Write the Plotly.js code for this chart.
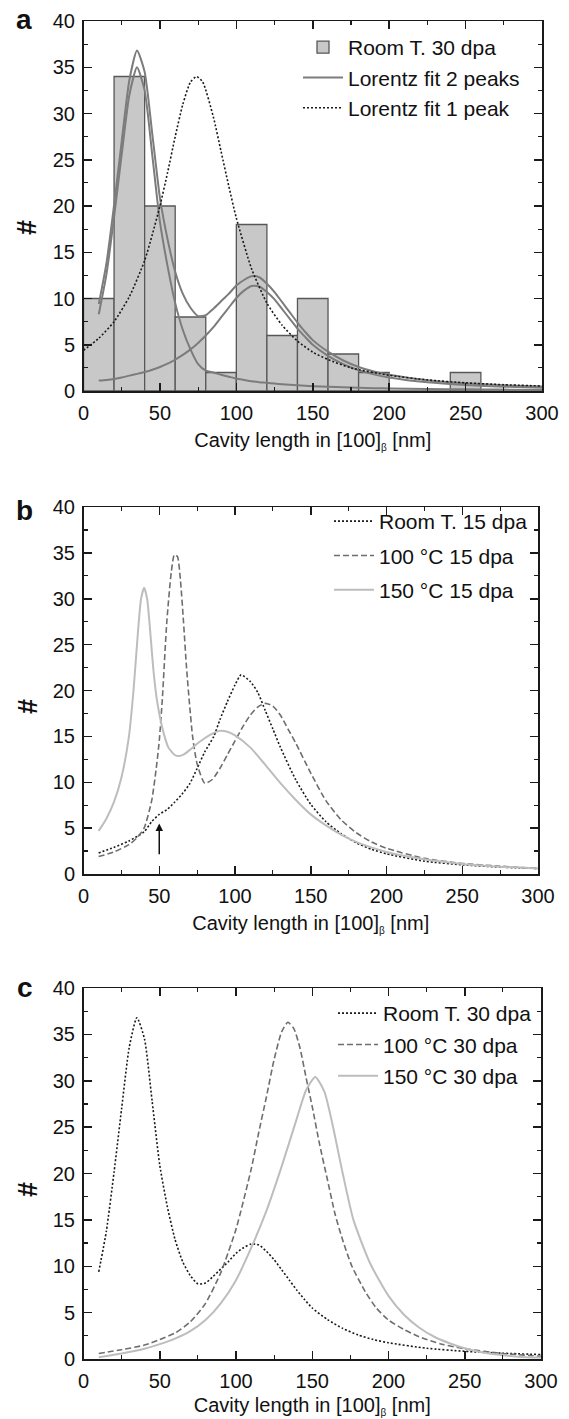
<!DOCTYPE html>
<html>
<head>
<meta charset="utf-8">
<script src="https://cdn.plot.ly/plotly-3.0.1.min.js"></script>
<style>html,body{margin:0;padding:0;background:#fff;}#chart{width:569px;height:1419px;}</style>
</head>
<body>
<div id="chart"></div>
<script>
// ---------- Panel a: histogram (Room T. 30 dpa) ----------
const binCenters = [10,30,50,70,90,110,130,150,170,190,210,230,250,270,290];
const binCounts  = [10,34,20,8,2,18,6,10,4,2,0,0,2,0,0];

// Lorentz fit, 2 peaks (sum and the two single peaks)
const fit2X    = [10,15,20,25,30,35,40,45,50,55,60,65,70,75,80,85,90,95,100,105,110,115,120,125,130,135,140,145,150,160,170,180,190,200,225,250,275,300];
const fit2Sum  = [9.4,13.8,20.1,27.0,33.6,36.8,34.5,27.8,20.9,16.4,12.9,10.5,9.0,8.1,8.2,8.9,9.7,10.5,11.4,12.0,12.4,12.3,11.6,10.7,9.6,8.5,7.4,6.4,5.5,4.25,3.3,2.6,2.1,1.75,1.16,0.83,0.62,0.48];
const fit2Peak1= [8.3,12.6,18.8,25.6,32.0,35.0,32.5,25.5,18.3,13.5,9.5,6.6,4.5,2.9,2.2,2.0,1.75,1.55,1.35,1.2,1.05,0.95,0.88,0.8,0.74,0.68,0.62,0.57,0.52,0.45,0.4,0.35,0.31,0.28,0.22,0.18,0.15,0.12];
const fit2Peak2= [1.13,1.2,1.3,1.45,1.66,1.85,2.05,2.3,2.6,2.95,3.4,3.9,4.5,5.2,6.0,6.9,7.95,9.0,10.05,10.85,11.35,11.3,10.7,9.9,8.85,7.8,6.75,5.85,5.0,3.8,2.9,2.25,1.8,1.47,0.94,0.65,0.47,0.36];

// Lorentz fit, 1 peak
const fit1X = [0,10,20,30,40,45,50,55,60,65,70,74,78,85,90,95,100,110,120,130,140,150,160,175,200,225,250,275,300];
const fit1Y = [4.4,5.7,7.5,10.2,14.1,16.9,20.0,23.6,27.5,31.0,33.4,34.0,33.4,29.6,25.9,22.2,18.7,13.2,9.5,7.1,5.4,4.2,3.4,2.5,1.7,1.2,0.88,0.68,0.54];

// ---------- Panel b: 15 dpa ----------
const roomT15X = [10,20,30,40,45,50,55,60,65,70,75,80,86,90,95,100,104,110,115,120,125,130,140,150,160,170,180,190,200,225,250,275,300];
const roomT15Y = [2.3,2.9,3.6,4.6,5.7,6.5,7.0,7.8,8.7,9.8,11.5,13.3,15.0,16.8,18.8,20.6,21.7,21.0,19.8,17.8,15.8,13.8,10.3,7.6,5.7,4.4,3.4,2.7,2.2,1.4,1.0,0.75,0.6];
const c100d15X = [10,20,30,35,40,45,48,50,52,55,58,60,62,64,66,68,70,72,75,80,85,90,95,100,105,110,115,120,125,130,135,140,150,160,170,180,190,200,225,250,275,300];
const c100d15Y = [1.9,2.4,3.2,3.9,5.0,8.0,11.5,14.5,19.0,27.5,33.0,34.8,34.6,32.0,27.5,22.5,18.5,15.0,12.0,9.9,10.3,11.5,13.0,14.5,16.0,17.3,18.2,18.6,18.3,17.3,15.8,14.3,11.0,8.0,5.9,4.5,3.5,2.8,1.7,1.15,0.85,0.6];
const c150d15X = [10,15,20,25,30,33,36,38,40,42,44,46,48,50,53,56,60,63,66,70,75,80,85,90,95,100,110,120,130,140,150,160,170,180,190,200,225,250,275,300];
const c150d15Y = [4.7,6.0,7.8,10.5,15.0,20.0,26.5,30.0,31.2,30.0,26.5,22.5,19.5,17.5,15.3,13.8,13.0,12.85,13.0,13.5,14.2,14.8,15.3,15.6,15.5,15.1,13.8,11.9,9.9,8.1,6.5,5.3,4.3,3.5,2.9,2.4,1.6,1.1,0.8,0.6];
const arrowX = 50, arrowFromY = 2.0, arrowToY = 5.5;

// ---------- Panel c: 30 dpa ----------
const c100d30X = [10,25,40,50,60,70,80,90,100,110,115,120,125,130,134,138,142,146,150,155,160,165,170,176,185,192,200,210,220,235,250,275,300];
const c100d30Y = [0.6,1.0,1.5,2.1,2.8,4.0,6.0,9.3,14.0,20.5,24.5,28.3,32.3,35.3,36.3,35.6,33.5,30.3,27.2,23.0,19.3,15.6,12.8,10.0,7.2,5.5,4.2,3.2,2.4,1.6,1.1,0.6,0.3];
const c150d30X = [10,25,40,50,60,70,80,90,100,110,120,130,140,146,152,158,163,170,177,188,200,210,220,230,240,250,260,270,285,300];
const c150d30Y = [0.2,0.6,1.1,1.6,2.2,3.0,4.2,6.0,8.5,12.0,16.0,20.8,26.0,29.0,30.4,28.8,25.5,20.0,15.0,10.3,6.8,4.8,3.4,2.4,1.7,1.15,0.75,0.5,0.25,0.15];

// ---------- labels ----------
const xTitle = 'Cavity length in [100]<sub><span style="font-size:10px">β</span></sub> [nm]';
const yTitle = '<b>#</b>';
const panelLabels = ['a','b','c'];
const legA = ['Room T. 30 dpa','Lorentz fit 2 peaks','Lorentz fit 1 peak'];
const legB = ['Room T. 15 dpa','100 °C 15 dpa','150 °C 15 dpa'];
const legC = ['Room T. 30 dpa','100 °C 30 dpa','150 °C 30 dpa'];

// ---------- styling ----------
const FONT = 'Liberation Sans, Arial, sans-serif';
const W = 569, H = 1419;
const AX = '#1a1a1a';
const solidMid = {color:'#7c7c7c', width:2};
const dotBlack = {color:'#1a1a1a', width:1.6, dash:'2px,2px'};
const dashGray = {color:'#6e6e6e', width:1.6, dash:'6px,3px'};
const solidLight = {color:'#bdbdbd', width:2};

function px2x(p){return p/W;}
function px2y(p){return 1-p/H;}

function xAx(l, r, anchor, standoff){
  return {domain:[px2x(l), px2x(r)], anchor:anchor, range:[0,300], tick0:0, dtick:50,
    ticks:'inside', ticklen:8, tickwidth:1.5, tickcolor:AX, showline:true, linecolor:AX, linewidth:1.5,
    mirror:'ticks', showgrid:false, zeroline:false, ticklabelstandoff:3,
    minor:{ticks:'inside', dtick:25, ticklen:4, tickwidth:1.2, tickcolor:AX},
    tickfont:{size:20, color:'#111'}, automargin:false, fixedrange:true,
    title:{text:xTitle, font:{size:20, color:'#111'}, standoff:standoff}};
}
function yAx(top, bottom, anchor){
  return {domain:[px2y(bottom), px2y(top)], anchor:anchor, range:[0,40], tick0:0, dtick:5,
    ticks:'inside', ticklen:8, tickwidth:1.5, tickcolor:AX, showline:true, linecolor:AX, linewidth:1.5,
    mirror:'ticks', showgrid:false, zeroline:false, ticklabelstandoff:3,
    minor:{ticks:'inside', dtick:2.5, ticklen:4, tickwidth:1.2, tickcolor:AX},
    tickfont:{size:20, color:'#111'}, automargin:false, fixedrange:true};
}

const sp = (st) => Object.assign({shape:'spline', smoothing:0.6}, st);
const traces = [
  {type:'bar', x:binCenters, y:binCounts, width:20, name:legA[0], xaxis:'x', yaxis:'y', legend:'legend', legendgroup:'a1',
   marker:{color:'#c8c8c8', line:{color:'#575757', width:1.3}}},
  {type:'scatter', mode:'lines', x:fit2X, y:fit2Peak1, xaxis:'x', yaxis:'y', line:sp(solidMid), showlegend:false, legendgroup:'a2', legend:'legend'},
  {type:'scatter', mode:'lines', x:fit2X, y:fit2Peak2, xaxis:'x', yaxis:'y', line:sp(solidMid), showlegend:false, legendgroup:'a2', legend:'legend'},
  {type:'scatter', mode:'lines', x:fit2X, y:fit2Sum, name:legA[1], xaxis:'x', yaxis:'y', line:sp(solidMid), legendgroup:'a2', legend:'legend'},
  {type:'scatter', mode:'lines', x:fit1X, y:fit1Y, name:legA[2], xaxis:'x', yaxis:'y', line:sp(dotBlack), legendgroup:'a3', legend:'legend'},

  {type:'scatter', mode:'lines', x:roomT15X, y:roomT15Y, name:legB[0], xaxis:'x2', yaxis:'y2', line:sp(dotBlack), legendgroup:'b1', legend:'legend2'},
  {type:'scatter', mode:'lines', x:c100d15X, y:c100d15Y, name:legB[1], xaxis:'x2', yaxis:'y2', line:sp(dashGray), legendgroup:'b2', legend:'legend2'},
  {type:'scatter', mode:'lines', x:c150d15X, y:c150d15Y, name:legB[2], xaxis:'x2', yaxis:'y2', line:sp(solidLight), legendgroup:'b3', legend:'legend2'},

  {type:'scatter', mode:'lines', x:fit2X, y:fit2Sum, name:legC[0], xaxis:'x3', yaxis:'y3', line:sp(dotBlack), legendgroup:'c1', legend:'legend3'},
  {type:'scatter', mode:'lines', x:c100d30X, y:c100d30Y, name:legC[1], xaxis:'x3', yaxis:'y3', line:sp(dashGray), legendgroup:'c2', legend:'legend3'},
  {type:'scatter', mode:'lines', x:c150d30X, y:c150d30Y, name:legC[2], xaxis:'x3', yaxis:'y3', line:sp(solidLight), legendgroup:'c3', legend:'legend3'}
];

function leg(xpx, ypx, gap){
  return {x:px2x(xpx), y:px2y(ypx), xanchor:'left', yanchor:'top', bgcolor:'rgba(0,0,0,0)', borderwidth:0,
    font:{size:21, color:'#111'}, tracegroupgap:gap, itemwidth:40, traceorder:'grouped'};
}

function lbl(i, xpx, ypx){
  return {xref:'paper', yref:'paper', x:px2x(xpx), y:px2y(ypx), xanchor:'center', yanchor:'middle',
    text:'<b>'+panelLabels[i]+'</b>', showarrow:false, font:{size:28, color:'#111'}};
}
function hash(xpx, ypx){
  return {xref:'paper', yref:'paper', x:px2x(xpx), y:px2y(ypx), xanchor:'center', yanchor:'middle',
    text:yTitle, textangle:-90, showarrow:false, font:{size:27, color:'#111'}};
}

const layout = {
  width:W, height:H, margin:{l:0, r:0, t:0, b:0},
  paper_bgcolor:'#fff', plot_bgcolor:'#fff',
  font:{family:FONT, size:20, color:'#111'},
  showlegend:true, barmode:'overlay', bargap:0,
  xaxis: xAx(83.5, 542, 'y', 10),
  yaxis: yAx(21, 391, 'x'),
  xaxis2: xAx(83.5, 538, 'y2', 10),
  yaxis2: yAx(507, 874, 'x2'),
  xaxis3: xAx(83.5, 541, 'y3', 7),
  yaxis3: yAx(988, 1359, 'x3'),
  legend: leg(298, 27, 0),
  legend2: leg(329, 501, 4),
  legend3: leg(333, 993, 1),
  annotations: [
    lbl(0, 24, 19), lbl(1, 24, 510), lbl(2, 25, 987),
    hash(27, 228), hash(28, 707), hash(28, 1190),
    {xref:'x2', yref:'y2', axref:'x2', ayref:'y2', x:arrowX, y:arrowToY, ax:arrowX, ay:arrowFromY, text:'', showarrow:true,
     arrowhead:2, arrowsize:1, arrowwidth:1.5, arrowcolor:'#111'}
  ]
};

Plotly.newPlot('chart', traces, layout, {displayModeBar:false, staticPlot:true});
</script>
</body>
</html>
